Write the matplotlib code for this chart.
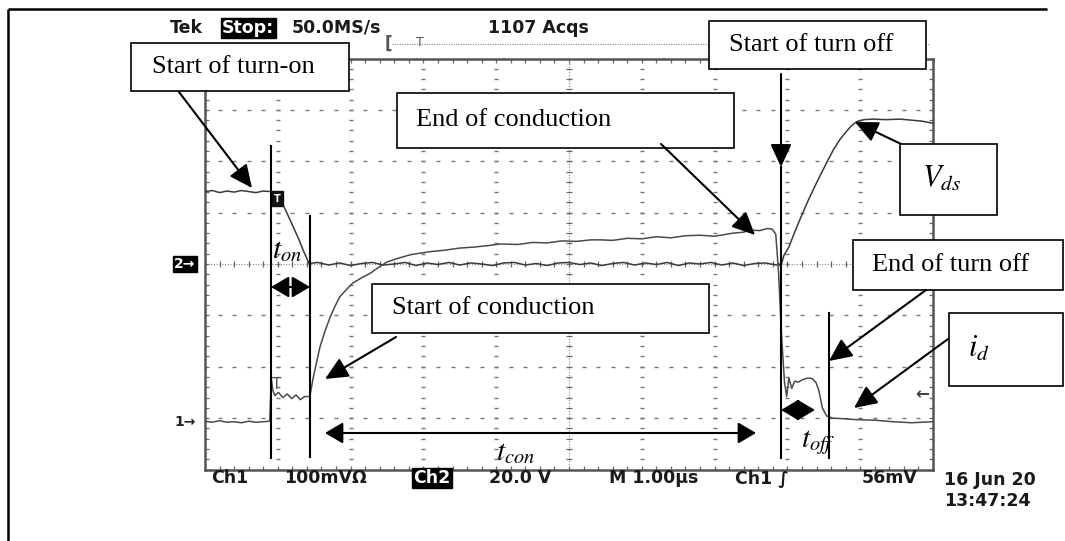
import matplotlib
matplotlib.use("Agg")
import matplotlib.pyplot as plt
from matplotlib.patches import Rectangle, FancyArrowPatch
from matplotlib.ticker import MultipleLocator
import numpy as np

plt.rcParams['mathtext.fontset'] = 'stix'

W, H = 1065, 541

# === Scope traces: time in us (1 us/div), level in divisions (0 = centre) ===
# Ch2: drain-source voltage
ch2_time = [0.00, 0.10, 0.20, 0.30, 0.40, 0.50, 0.60, 0.70, 0.80, 0.90, 0.99,
            1.05, 1.12, 1.20, 1.28, 1.36, 1.43,
            1.55, 1.70, 1.85, 2.00, 2.15, 2.30, 2.45, 2.60, 2.75, 2.90,
            3.05, 3.20, 3.35, 3.50, 3.65, 3.80, 3.95, 4.10, 4.25, 4.40,
            4.55, 4.70, 4.85, 5.00, 5.15, 5.30, 5.45, 5.60, 5.75, 5.90,
            6.05, 6.20, 6.35, 6.50, 6.65, 6.80, 6.95, 7.10, 7.25, 7.40,
            7.55, 7.70, 7.85,
            7.88, 7.91, 7.95, 8.02, 8.10, 8.17, 8.28, 8.40, 8.52, 8.63, 8.72,
            8.81, 8.88, 8.95, 9.05, 9.18, 9.35, 9.55, 9.70, 9.85, 9.96, 10.0]
ch2_level = [1.41, 1.43, 1.39, 1.42, 1.40, 1.43, 1.41, 1.39, 1.42, 1.41, 1.40,
             1.21, 1.01, 0.76, 0.51, 0.23, 0.01,
             0.03, -0.02, 0.02, -0.03, 0.01, 0.03, -0.02, 0.00, 0.03, -0.03,
             0.02, -0.01, 0.03, -0.02, 0.02, 0.00, -0.03, 0.02, 0.03, -0.02,
             0.01, -0.03, 0.02, 0.03, -0.01, 0.02, -0.03, 0.01, 0.03, -0.02,
             0.02, -0.01, 0.03, -0.03, 0.02, 0.00, 0.03, -0.02, 0.02, -0.03,
             0.01, 0.02, -0.02,
             0.01, -0.05, 0.16, 0.33, 0.62, 0.86, 1.22, 1.58, 1.92, 2.22, 2.42,
             2.58, 2.69, 2.77, 2.81, 2.82, 2.81, 2.82, 2.80, 2.78, 2.75, 2.74]

# Ch1: drain current
ch1_time = [0.00, 0.10, 0.20, 0.30, 0.40, 0.50, 0.60, 0.70, 0.80, 0.89,
            0.91, 0.93, 0.96, 1.01, 1.07, 1.13, 1.19, 1.25, 1.31, 1.37, 1.44,
            1.48, 1.53, 1.58, 1.65, 1.72, 1.78, 1.85, 1.94, 2.03, 2.15, 2.27,
            2.38, 2.50, 2.65, 2.82, 2.95, 3.09, 3.30, 3.50, 3.70, 3.90, 4.05,
            4.30, 4.50, 4.70, 4.90, 5.10, 5.30, 5.43, 5.60, 5.80, 6.00, 6.20,
            6.40, 6.60, 6.80, 7.00, 7.25, 7.40, 7.49, 7.62, 7.72, 7.79, 7.84,
            7.86, 7.88, 7.92, 7.96, 7.99, 8.02, 8.06, 8.10, 8.15, 8.21, 8.28,
            8.34, 8.39, 8.43, 8.48, 8.54, 8.62, 8.75, 8.95, 9.20, 9.45, 9.70, 10.0]
ch1_level = [-3.06, -3.08, -3.05, -3.08, -3.07, -3.09, -3.06, -3.08, -3.07, -3.06,
             -2.22, -2.45, -2.56, -2.50, -2.60, -2.53, -2.62, -2.55, -2.64, -2.58, -2.58,
             -2.26, -1.93, -1.61, -1.30, -1.03, -0.84, -0.64, -0.50, -0.37, -0.27, -0.18,
             -0.07, 0.04, 0.11, 0.18, 0.21, 0.24, 0.27, 0.31, 0.33, 0.36, 0.39,
             0.38, 0.42, 0.41, 0.45, 0.44, 0.47, 0.47, 0.46, 0.50, 0.49, 0.53,
             0.51, 0.55, 0.56, 0.54, 0.60, 0.62, 0.66, 0.65, 0.69, 0.68, 0.58,
             0.20, -0.20, -1.40, -2.30, -2.58, -2.22, -2.42, -2.28, -2.30, -2.25, -2.22,
             -2.23, -2.30, -2.45, -2.80, -2.96, -3.00, -3.01, -3.03, -3.04, -3.07, -3.09, -3.07]

# === Scope readout text ===
readout_text = ["Tek", "Stop:", "50.0MS/s", "1107 Acqs",
                "Ch1", "100mV\u03a9", "Ch2", "20.0 V", "M 1.00\u00b5s", "Ch1 \u222b", "56mV",
                "16 Jun 20", "13:47:24"]
readout_x = [170, 222, 292, 488, 211, 284, 413, 489, 609, 735, 862, 944, 944]
readout_y = [28, 28, 28, 28, 478, 478, 478, 478, 478, 478, 478, 480, 501]
readout_inverse = [False, True, False, False, False, False, True, False, False, False, False, False, False]

# === Annotation boxes (x0, y0, x1, y1), label, label x ===
box_rects = [(131, 43, 349, 91), (397, 93, 734, 148), (709, 21, 926, 69),
             (372, 284, 709, 333), (853, 240, 1063, 290), (900, 144, 997, 215),
             (949, 313, 1063, 386)]
box_labels = ["Start of turn-on", "End of conduction", "Start of turn off",
              "Start of conduction", "End of turn off", r"$V_{ds}$", r"$i_d$"]
box_label_x = [152, 416, 729, 392, 872, 922, 968]

# arrows: tail -> head
arrow_tail = [(179, 92), (661, 144), (781, 74), (901, 144), (926, 290), (948, 339), (396, 337)]
arrow_head = [(252, 188), (755, 235), (781, 167), (855, 122), (829, 361), (854, 408), (325, 379)]

# plain marker lines
marker_lines = [((271, 146), (271, 458)), ((310, 216), (310, 457)),
                ((781, 167), (781, 458)), ((829, 313), (829, 458)),
                ((798, 402), (798, 418))]

# interval arrows and their labels
span_ends = [((271, 287), (310, 287)), ((325, 433), (756, 433)), ((781, 410), (815, 410))]
span_labels = [r"$t_{on}$", r"$t_{con}$", r"$t_{off}$"]
span_label_xy = [(272, 258), (496, 460), (801, 447)]

# === Figure ===
fig = plt.figure(figsize=(W / 100, H / 100), dpi=100)
fig.patch.set_facecolor('white')

# scope screen, 10 x 8 divisions
sx0, sx1, sy0, sy1 = 205, 933, 58.5, 469.5
sc = fig.add_axes([sx0 / W, (H - sy1) / H, (sx1 - sx0) / W, (sy1 - sy0) / H], zorder=1)
sc.set_xlim(0, 10)
sc.set_ylim(-4, 4)
for sp in sc.spines.values():
    sp.set_color('#555555')
    sp.set_linewidth(1.8)
sc.xaxis.set_major_locator(MultipleLocator(1))
sc.xaxis.set_minor_locator(MultipleLocator(0.2))
sc.yaxis.set_major_locator(MultipleLocator(1))
sc.yaxis.set_minor_locator(MultipleLocator(0.2))
sc.tick_params(which='both', direction='in', top=True, right=True,
               labelbottom=False, labelleft=False, color='#666666', width=0.9, length=3)

# dotted graticule
dots_x = np.arange(0, 10.001, 0.2)
dots_y = np.arange(-4, 4.001, 0.2)
for gx in range(1, 10):
    if gx != 5:
        sc.plot(np.full_like(dots_y, gx), dots_y, ls='none', marker='_', ms=2.6, mew=1.0, color='#777777')
for gy in range(-3, 4):
    if gy != 0:
        sc.plot(dots_x, np.full_like(dots_x, gy), ls='none', marker='_', ms=2.6, mew=1.0, color='#777777')
# centre cross with fine ticks
sc.axhline(0, color='#888888', lw=0.8, ls=(0, (1, 1.5)))
sc.axvline(5, color='#888888', lw=0.8, ls=(0, (1, 1.5)))
sc.plot(dots_x, np.zeros_like(dots_x), ls='none', marker='|', ms=4.5, mew=0.9, color='#666666')
sc.plot(np.full_like(dots_y, 5), dots_y, ls='none', marker='_', ms=5, mew=0.9, color='#666666')

# traces
sc.plot(ch2_time, ch2_level, color='#3a3a3a', lw=1.1, zorder=4)
sc.plot(ch1_time, ch1_level, color='#4a4a4a', lw=1.1, zorder=4)

# trigger markers
sc.text(0.99, 1.27, 'T', ha='center', va='center', fontsize=7, fontweight='bold', color='white',
        bbox=dict(boxstyle='square,pad=0.25', fc='#111111', ec='#111111'), zorder=5)
sc.text(0.99, -2.20, 'T', ha='center', va='top', fontsize=11, color='#555555', zorder=5)

# === Overlay in pixel coordinates ===
ov = fig.add_axes([0, 0, 1, 1], zorder=5)
ov.set_xlim(0, W)
ov.set_ylim(H, 0)
ov.axis('off')
ov.patch.set_alpha(0)

# outer frame
ov.plot([8, 1047], [9, 9], color='black', lw=1.8, solid_capstyle='butt')
ov.plot([8, 8], [9, H], color='black', lw=1.8, solid_capstyle='butt')

# readouts
for s, x, y, inv in zip(readout_text, readout_x, readout_y, readout_inverse):
    kw = dict(fontsize=12.5, fontweight='bold', family='DejaVu Sans', va='center', ha='left')
    if inv:
        ov.text(x, y, s, color='white', bbox=dict(boxstyle='square,pad=0.08', fc='black', ec='black'), **kw)
    else:
        ov.text(x, y, s, color='#1a1a1a', **kw)

ov.text(174, 264, '2\u2192', fontsize=10, fontweight='bold', color='white', va='center', ha='left',
        bbox=dict(boxstyle='square,pad=0.1', fc='black', ec='black'))
ov.text(174, 422, '1\u2192', fontsize=10, fontweight='bold', color='#222222', va='center', ha='left')
ov.text(915, 394, '\u2190', fontsize=12, fontweight='bold', color='#444444', va='center', ha='left')

# trigger position bar above the screen
ov.text(385, 44, '[', fontsize=12, color='#555555', va='center', ha='left', fontweight='bold')
ov.text(420, 42, 'T', fontsize=9, color='#555555', va='center', ha='center')
ov.plot([392, 930], [44, 44], color='#888888', lw=0.8, ls=(0, (1, 1.2)))

# annotation boxes
for (x0, y0, x1, y1), lab, lx in zip(box_rects, box_labels, box_label_x):
    ov.add_patch(Rectangle((x0, y0), x1 - x0, y1 - y0, fc='white', ec='black', lw=1.2, zorder=6))
    fs = 22 if lab.startswith('$') else 19
    ov.text(lx, (y0 + y1) / 2, lab, fontsize=fs, family='Liberation Serif',
            va='center', ha='left', zorder=7)


def arrow(p0, p1, style):
    ov.add_patch(FancyArrowPatch(p0, p1, arrowstyle=style, mutation_scale=1, color='black',
                                 lw=1.5, shrinkA=0, shrinkB=0, zorder=8))


for p0, p1 in zip(arrow_tail, arrow_head):
    arrow(p0, p1, '-|>,head_length=14,head_width=6.5')

for p0, p1 in marker_lines:
    ov.plot([p0[0], p1[0]], [p0[1], p1[1]], color='black', lw=1.5, zorder=8)

for (p0, p1), lab, (lx, ly) in zip(span_ends, span_labels, span_label_xy):
    arrow(p0, p1, '<|-|>,head_length=11,head_width=6.5')
    ov.text(lx, ly, lab, fontsize=21, va='baseline', ha='left', zorder=8)

fig.savefig('out.png', dpi=100, facecolor='white')
